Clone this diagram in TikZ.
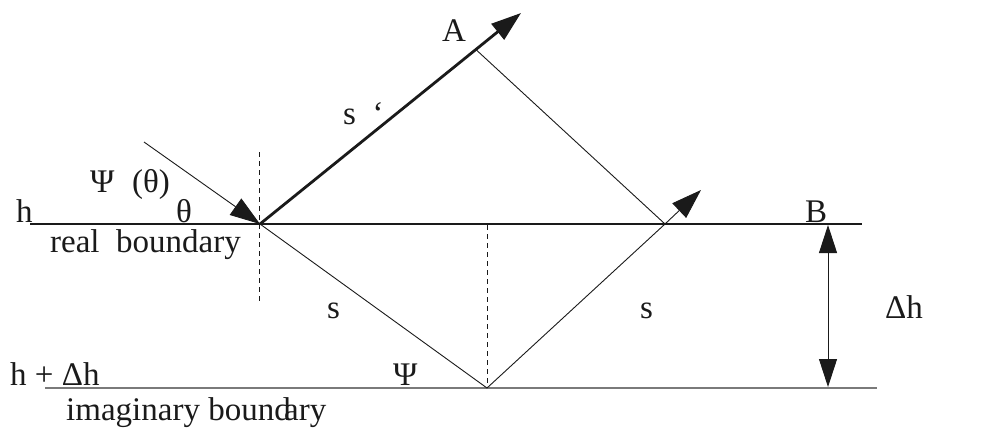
\documentclass[tikz,border=0pt]{standalone}
\usepackage{fontspec}
\setmainfont{Liberation Serif}
\usetikzlibrary{arrows.meta,calc}
\definecolor{ink}{HTML}{1A1A1A}
\definecolor{greyline}{HTML}{7A7A7A}
\tikzset{
  lbl/.style={inner sep=0pt,anchor=base west,font=\fontsize{33}{38}\selectfont,text=ink},
  boundary/.style={line width=2.2pt,draw=ink},
  imagline/.style={line width=1.6pt,draw=greyline},
  ray/.style={line width=0.9pt,draw=ink},
  thickray/.style={line width=2.8pt,draw=ink},
  tip/.style={-{Triangle[length=30pt,width=20pt]}},
  guide/.style={line width=0.9pt,draw=ink,dash pattern=on 5pt off 4pt},
  dimarrow/.style={{Triangle[length=28pt,width=18pt]}-{Triangle[length=28pt,width=18pt]},line width=0.9pt,draw=ink}
}
\begin{document}
\begin{tikzpicture}[x=1pt,y=-1pt]
  \useasboundingbox (0,0) rectangle (995,437);
  % boundaries
  \coordinate (realL) at (30,224);
  \coordinate (realR) at (862,224);
  \coordinate (imagL) at (45,388);
  \coordinate (imagR) at (877,388);
  \draw[boundary] (realL) -- (realR);
  \draw[imagline] (imagL) -- (imagR);

  % ray points
  \coordinate (src) at (144,142);
  \coordinate (P) at (260,224);
  \coordinate (Q) at (487,388);
  \coordinate (R) at (665,224);
  \coordinate (Atip) at (521,13);
  \coordinate (Rtip) at (701,190);
  \coordinate (Afoot) at ($(P)!0.827!(Atip)$);
  \coordinate (dashPtop) at (259,152);
  \coordinate (dashPbot) at (259,303);
  \coordinate (dashQtop) at (487,225);
  \coordinate (dimtop) at (828,225);
  \coordinate (dimbot) at (828,387);

  \draw[guide] (dashPtop) -- (dashPbot);
  \draw[guide] (dashQtop) -- (Q);

  \draw[ray,tip] (src) -- (P);
  \draw[ray] (P) -- (Q);
  \draw[ray] (Q) -- (R);
  \draw[ray,tip] (R) -- (Rtip);
  \draw[thickray,tip] (P) -- (Atip);
  \draw[ray] (Afoot) -- (R);
  \draw[dimarrow] (dimtop) -- (dimbot);

  % labels
  \node[lbl] (hlab) at (16,222) {h};
  \node[lbl] (psith) at (90,192) {Ψ};
  \node[lbl] (psiarg) at (132,192) {(θ)};
  \node[lbl] (thlab) at (176,222) {θ};
  \node[lbl] (reallab) at (50,252) {real\ \ boundary};
  \node[lbl] (Alab) at (442,41) {A};
  \node[lbl] (sprime) at (343,124) {s\ \ ‘};
  \node[lbl] (Blab) at (805,222) {B};
  \node[lbl] (sleft) at (327,318) {s};
  \node[lbl] (sright) at (640,318) {s};
  \node[lbl] (dhlab) at (885,318) {Δh};
  \node[lbl] (hdhlab) at (10,385) {h + Δh};
  \node[lbl] (psibot) at (393,385) {Ψ};
  \node[lbl] (imaglab) at (66,420) {imaginary bound\kern-0.2em ary};
\end{tikzpicture}
\end{document}
